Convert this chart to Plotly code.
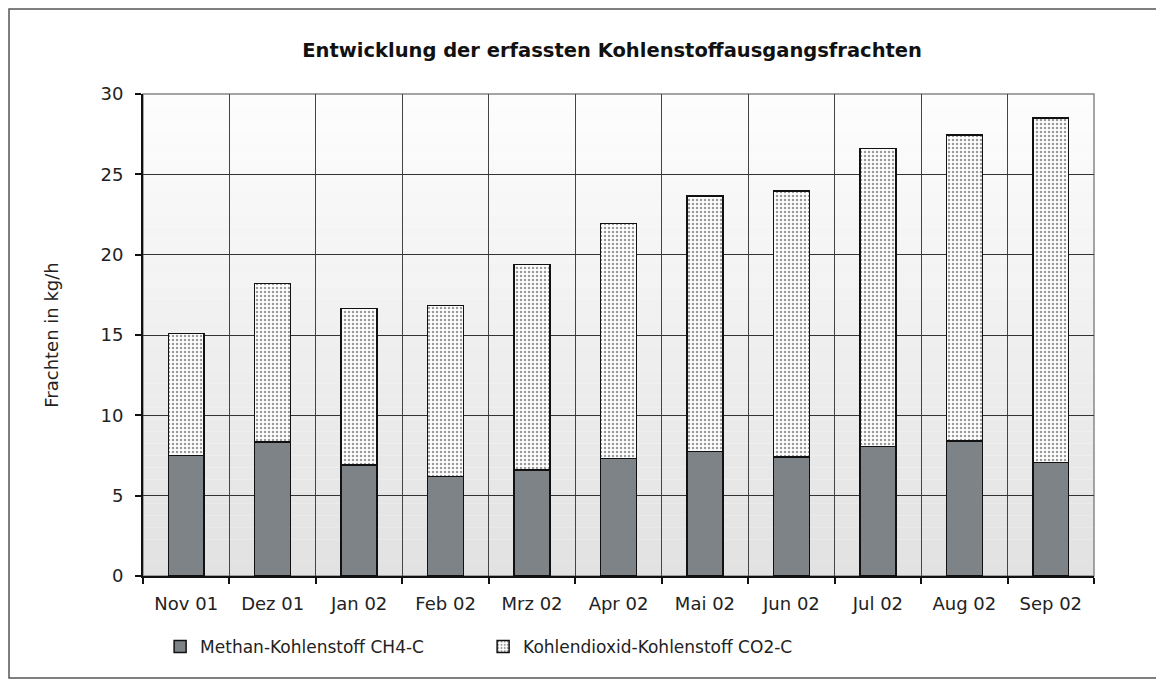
import plotly.graph_objects as go

months = ["Nov 01", "Dez 01", "Jan 02", "Feb 02", "Mrz 02", "Apr 02",
          "Mai 02", "Jun 02", "Jul 02", "Aug 02", "Sep 02"]
methan_c = [7.5, 8.35, 6.9, 6.2, 6.6, 7.3, 7.75, 7.4, 8.05, 8.4, 7.05]
co2_c = [7.6, 9.85, 9.75, 10.65, 12.8, 14.65, 15.9, 16.55, 18.55, 19.05, 21.45]

FONT = "DejaVu Sans"

fig = go.Figure()
fig.add_trace(go.Bar(
    x=months, y=methan_c, name="Methan-Kohlenstoff CH4-C",
    marker=dict(color="#7d8386", line=dict(color="#111111", width=1.5)),
))
fig.add_trace(go.Bar(
    x=months, y=co2_c, name="Kohlendioxid-Kohlenstoff CO2-C",
    marker=dict(
        color="white",
        line=dict(color="#111111", width=1.5),
        pattern=dict(shape=".", fgcolor="#333333", bgcolor="white",
                     size=4, solidity=0.3),
    ),
))

# plot-area gradient (white at top -> light grey at bottom)
n_bands = 40
shapes = []
for i in range(n_bands):
    t = i / (n_bands - 1)
    g = int(round(253 - (253 - 226) * (1 - t)))
    shapes.append(dict(
        type="rect", xref="x domain", yref="y domain",
        x0=0, x1=1, y0=i / n_bands, y1=(i + 1) / n_bands,
        fillcolor=f"rgb({g},{g},{g})", line=dict(width=0), layer="below",
    ))
# grey plot border (top/right)
shapes.append(dict(type="rect", xref="x domain", yref="y domain",
                   x0=0, x1=1, y0=0, y1=1, line=dict(color="#888888", width=1.5),
                   layer="below"))
# outer chart frame
shapes.append(dict(type="rect", xref="paper", yref="paper",
                   x0=-0.1409, x1=1.0662, y0=-0.2116, y1=1.1763,
                   line=dict(color="#555555", width=1.5)))

fig.update_layout(
    barmode="stack",
    bargap=0.585,
    width=1164, height=686,
    margin=dict(l=135, r=78, t=86, b=118),
    paper_bgcolor="white",
    plot_bgcolor="rgba(0,0,0,0)",
    font=dict(family=FONT, size=18, color="#222222"),
    title=dict(text="<b>Entwicklung der erfassten Kohlenstoffausgangsfrachten</b>",
               x=0.519, xanchor="center", y=0.938, yanchor="middle",
               font=dict(family=FONT, size=19.5, color="#111111")),
    shapes=shapes,
    legend=dict(orientation="h", x=0.018, y=-0.147, xanchor="left", yanchor="middle",
                font=dict(family=FONT, size=17, color="#222222"),
                entrywidth=278, traceorder="normal", bgcolor="rgba(0,0,0,0)"),
)
fig.update_yaxes(
    range=[0, 30], dtick=5, tick0=0,
    showline=True, linecolor="#111111", linewidth=2,
    ticks="outside", ticklen=6, tickcolor="#111111", tickwidth=1.5,
    ticklabelstandoff=8,
    showgrid=True, gridcolor="#333333", gridwidth=1,
    tickfont=dict(size=18), zeroline=False,
    title=dict(text="Frachten in kg/h", font=dict(size=18), standoff=37),
)
fig.update_xaxes(
    tickson="boundaries",
    showline=True, linecolor="#111111", linewidth=2,
    ticks="outside", ticklen=6, tickcolor="#111111", tickwidth=1.5,
    ticklabelstandoff=10,
    showgrid=True, gridcolor="#444444", gridwidth=1,
    tickfont=dict(size=18),
)

fig.write_html("out.html")
